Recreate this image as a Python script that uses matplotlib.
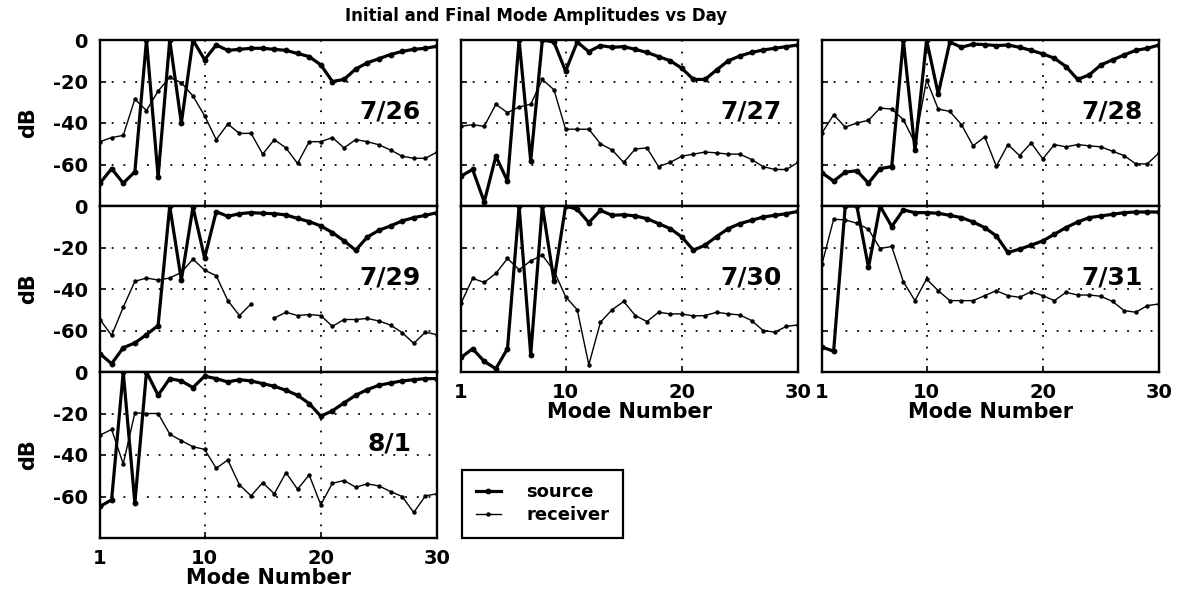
import matplotlib
matplotlib.use("Agg")
import matplotlib.pyplot as plt
import numpy as np

plt.rcParams["font.family"] = ["DejaVu Sans"]
plt.rcParams["font.weight"] = "bold"
plt.rcParams["axes.unicode_minus"] = False

modes = np.arange(1, 31)

# mode amplitudes in dB, one source / receiver pair per day
src_0726 = [-69, -62, -69, -63.5, 0, -66, 0, -40, 0, -9.5, -2.4, -5, -4.5, -4, -4, -4.5, -5, -6.5, -8, -12,
            -20, -19, -14, -11, -9, -7, -5.5, -4.5, -4, -3]
rcv_0726 = [-49, -47, -46, -28.5, -34, -24.6, -18, -20.6, -27, -36.5, -48, -40.5, -45, -45, -55, -48, -52, -59.5,
            -49, -49, -47, -52, -48, -49, -50.5, -53, -56, -57, -57, -54]

src_0727 = [-65.6, -62.4, -78, -56, -68, 0, -58.4, 0, -1, -15, -1, -5.6, -2.7, -3.5, -3.2, -4.5, -6, -8, -10,
            -13.6, -19, -19, -14.4, -10, -7.7, -6, -4.8, -4, -3.2, -2.4]
rcv_0727 = [-41.6, -40.8, -41.6, -31, -35, -32.3, -31, -19, -24, -43, -43, -43, -50, -53, -59, -52.5, -52, -61,
            -59, -56, -55, -54, -54.4, -55, -55, -57.6, -61, -62.4, -62.4, -59]

src_0728 = [-64, -68, -63.7, -63, -69, -62, -61, 0, -53, 0, -26, -1, -3.5, -2, -2.2, -2.7, -2.4, -3.5, -5, -6.7,
            -8.8, -12.8, -19, -16.8, -12, -9.6, -7.2, -5, -4, -2.4]
rcv_0728 = [-44.8, -36, -42, -40, -38.7, -32.8, -33.3, -38.4, -49.6, -19.2, -33.3, -34.4, -40.8, -51, -46.7,
            -60.8, -50.4, -55.7, -49.6, -57.3, -50.4, -51.5, -50.4, -51, -51.5, -53.6, -55.7, -59.7, -59.7, -54.4]

src_0729 = [-71.2, -76, -68.3, -66, -62, -57.6, 0, -35.7, -0.5, -25, -2.7, -5, -3.7, -3.2, -3.5, -3.7, -4.3, -6,
            -7.5, -9.6, -12.8, -16.8, -21.3, -15, -11.7, -9.6, -7.2, -5.6, -4.5, -3.2]
rcv_0729 = [-54.7, -62.4, -48.8, -36.3, -34.7, -35.7, -34.7, -32, -25.6, -30.9, -33.6, -45.6, -52.8, -47.2,
            np.nan, -54, -51.2, -52.8, -52.3, -52.8, -58, -54.7, -54.7, -54.2, -55.4, -57.4, -61, -66.2, -60.8, -62]

src_0730 = [-73, -68.8, -74.9, -78.4, -68.8, 0, -71.7, 0, -36, 0, -1.6, -8, -2.1, -4.5, -4.2, -4.8, -6.1, -8.5,
            -10.9, -14.9, -21.3, -18.9, -14.7, -10.9, -8.5, -6.9, -5.3, -4.5, -3.7, -2.6]
rcv_0730 = [-46.9, -34.9, -36.8, -32.5, -25.3, -30.7, -26.4, -23.7, -31.2, -43.7, -50, -76.5, -56, -50, -46,
            -52.8, -55.7, -51.2, -52, -52, -53, -52.8, -51.2, -52, -52.5, -55.2, -60, -60.8, -58, -57.3]

src_0731 = [-68, -70, 0, 0, -29.6, 0, -9.9, -1.9, -3.2, -3.2, -3.5, -4.5, -5.6, -7.7, -10.4, -14.4, -22.4, -20.8,
            -18.9, -16.8, -13.6, -10.4, -7.7, -5.6, -4.8, -4, -3.2, -2.9, -2.9, -2.9]
rcv_0731 = [-28, -6.4, -6.7, -8.3, -11.2, -20.5, -19.5, -36.5, -45.6, -35.2, -40.8, -45.6, -45.6, -45.6, -43.2,
            -40.8, -43.2, -44, -41.3, -43.2, -45.6, -41.6, -42.9, -42.9, -43.5, -46, -50.4, -51.2, -48, -47.2]

src_0801 = [-64.8, -61.6, 0, -63.2, 0, -11.2, -3.2, -4.3, -7.5, -2, -3.2, -4.8, -3.7, -4.3, -5.6, -6.9, -8.8,
            -11.2, -15.2, -21.3, -18.7, -14.9, -11.2, -8.5, -6.4, -5.3, -4.3, -3.7, -3.2, -3.2]
rcv_0801 = [-30.4, -27.7, -44.3, -19.7, -20, -20, -29.9, -33.1, -36, -37.3, -46.4, -42.4, -54.4, -59.7, -53.3,
            -58.7, -48.5, -56.5, -49.6, -64, -53.6, -52.3, -55.5, -53.9, -54.9, -57.6, -60, -67.7, -59.7, -58.7]

days = ["7/26", "7/27", "7/28", "7/29", "7/30", "7/31", "8/1"]
sources = [src_0726, src_0727, src_0728, src_0729, src_0730, src_0731, src_0801]
receivers = [rcv_0726, rcv_0727, rcv_0728, rcv_0729, rcv_0730, rcv_0731, rcv_0801]

# (column, row) of each day's panel
slots = [(0, 0), (1, 0), (2, 0), (0, 1), (1, 1), (2, 1), (0, 2)]

W, H = 1184, 594
fig = plt.figure(figsize=(W / 100, H / 100), dpi=100)

col_left = [100, 461, 822]
row_top = [40, 206, 372]
ax_w, ax_h = 337, 166

for day, src, rcv, (c, r) in zip(days, sources, receivers, slots):
    ax = fig.add_axes([col_left[c] / W, 1 - (row_top[r] + ax_h) / H, ax_w / W, ax_h / H])
    src_line, = ax.plot(modes, src, color="black", lw=2.3, marker="o", ms=3.2, label="source")
    rcv_line, = ax.plot(modes, rcv, color="black", lw=1.0, marker="o", ms=2.2, label="receiver")
    ax.set_xlim(1, 30)
    ax.set_ylim(-80, 0)
    ax.set_xticks([1, 10, 20, 30])
    ax.set_yticks([0, -20, -40, -60])
    ax.grid(True, color="black", linestyle=(0, (1, 5.5)), linewidth=1.3)
    ax.tick_params(direction="in", length=4, width=1.2, labelsize=14)
    ax.tick_params(axis="y", pad=9)
    ax.tick_params(axis="x", pad=8)
    for s in ax.spines.values():
        s.set_linewidth(1.7)
    for lab in ax.get_xticklabels() + ax.get_yticklabels():
        lab.set_fontweight("bold")

    if c == 0:
        ax.set_ylabel("dB", fontsize=15, fontweight="bold", labelpad=10)
    else:
        ax.tick_params(labelleft=False)
    bottom_row = (c == 0 and r == 2) or (c > 0 and r == 1)
    if bottom_row:
        ax.set_xlabel("Mode Number", fontsize=15, fontweight="bold", labelpad=0)
    else:
        ax.tick_params(labelbottom=False)

    ax.text(0.86, 0.57, day, transform=ax.transAxes, ha="center", va="center",
            fontsize=18, fontweight="bold")

fig.text(536 / W, 1 - 16 / H, "Initial and Final Mode Amplitudes vs Day",
         ha="center", va="center", fontsize=12, fontweight="bold")

leg = fig.legend(handles=[src_line, rcv_line], loc="lower left",
                 bbox_to_anchor=(462 / W, 1 - 538 / H), fontsize=13,
                 frameon=True, fancybox=False, edgecolor="black",
                 handlelength=1.4, handletextpad=1.4, borderpad=0.75,
                 labelspacing=0.3, borderaxespad=0)
leg.get_frame().set_linewidth(1.6)
leg.get_frame().set_alpha(1)

fig.savefig("out.png", dpi=100)
